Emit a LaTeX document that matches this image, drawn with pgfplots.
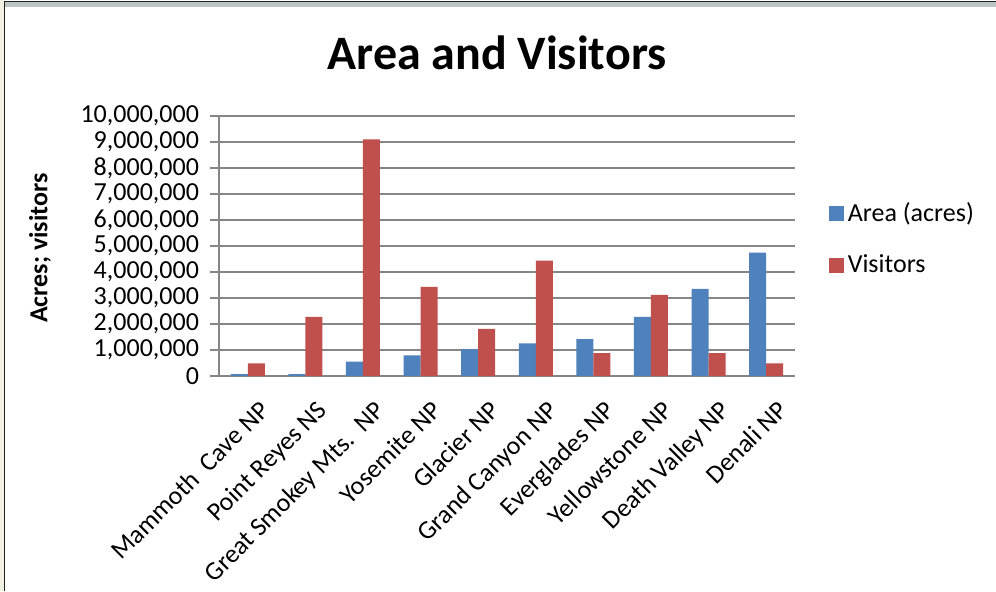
\documentclass[border=0pt]{standalone}
\usepackage{pgfplots}
\pgfplotsset{compat=1.18}
\usepackage{fontspec}
\setmainfont{Carlito}
\definecolor{exblue}{HTML}{4F81BD}
\definecolor{exred}{HTML}{C0504D}
\definecolor{gridgray}{HTML}{868686}
\definecolor{beige}{HTML}{F2F0E0}
\definecolor{stripgray}{HTML}{BCC4C4}
\definecolor{framedark}{HTML}{222222}
\begin{document}
\begin{tikzpicture}
\path[use as bounding box] (-109.5pt,-107.5pt) rectangle (388.5pt,188pt);
\fill[white] (-109.5pt,-107.5pt) rectangle (388.5pt,188pt);
\fill[beige] (-109.5pt,-107.5pt) rectangle (-107.5pt,188pt);
\fill[stripgray] (-107.5pt,184.5pt) rectangle (388.5pt,186.8pt);
\draw[framedark,line width=0.8pt] (-107.2pt,-107.5pt) -- (-107.2pt,187.2pt) -- (388.5pt,187.2pt);
\begin{axis}[
  at={(0,0)}, anchor=south west,
  scale only axis, width=288pt, height=130pt,
  ybar=0pt, bar width=8.5pt,
  xmin=-0.5, xmax=9.5, ymin=0, ymax=10000000,
  enlarge x limits=false,
  xtick=data,
  xticklabels={Mammoth~~Cave NP, Point Reyes NS, Great Smokey Mts.~~NP, Yosemite NP, Glacier NP, Grand Canyon NP, Everglades NP, Yellowstone NP, Death Valley NP, Denali NP},
  x tick label style={anchor=north east, font=\fontsize{13}{15}\selectfont, inner sep=1pt, xshift=5pt, yshift=-5.5pt, rotate=45},
  ytick={0,1000000,...,10000000},
  scaled y ticks=false,
  /pgf/number format/.cd, fixed, 1000 sep={,}, assume math mode=true,
  /pgfplots/.cd,
  y tick label style={font=\fontsize{13}{15}\selectfont, xshift=-2pt},
  axis x line*=bottom, axis y line*=left,
  axis line style={gridgray, line width=0.75pt, -},
  ymajorgrids, grid style={gridgray, line width=0.75pt},
  xtick style={draw=none},
  ytick style={gridgray, line width=0.75pt},
  tick align=outside, major tick length=4.5pt,
  ylabel={Acres; visitors},
  ylabel style={at={(rel axis cs:-0.3108,0.492)}, anchor=center, font=\bfseries\fontsize{13}{15}\selectfont},
  title={Area and Visitors},
  title style={at={(rel axis cs:0.4826,1.195)}, anchor=center, font=\bfseries\fontsize{24}{28}\selectfont},
  legend style={at={(rel axis cs:1.058,0.527)}, anchor=west, draw=none, fill=none,
    font=\fontsize{13}{15}\selectfont, row sep=11pt, inner sep=0pt,
    /tikz/every even column/.append style={column sep=2pt}},
  legend image code/.code={\fill[#1] (0pt,-3.75pt) rectangle (7.5pt,3.75pt);},
  legend cell align=left,
]
\addplot[fill=exblue, draw=none] coordinates {
 (0,70000) (1,72000) (2,550000) (3,790000) (4,1030000) (5,1260000) (6,1420000) (7,2270000) (8,3350000) (9,4750000)};
\addplot[fill=exred, draw=none] coordinates {
 (0,490000) (1,2270000) (2,9100000) (3,3430000) (4,1810000) (5,4440000) (6,880000) (7,3120000) (8,880000) (9,490000)};
\legend{Area (acres), Visitors}
\end{axis}
\end{tikzpicture}
\end{document}
